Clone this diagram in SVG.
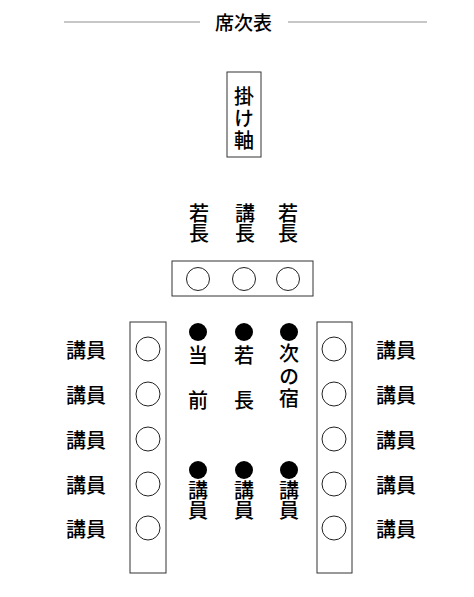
<svg xmlns="http://www.w3.org/2000/svg" width="474" height="597" viewBox="0 0 474 597">
<style>
text{font-family:"Noto Sans CJK JP","Noto Sans CJK SC",sans-serif;font-size:20px;font-weight:500;fill:#000;text-anchor:middle;dominant-baseline:central}
.v{writing-mode:vertical-rl}
.box{fill:#fff;stroke:#333;stroke-width:1}
.seat{fill:#fff;stroke:#222;stroke-width:1}
.dot{fill:#000}
.rule{stroke:#b5b5b5;stroke-width:1.5}
</style>
<rect width="474" height="597" fill="#fff"/>
<g id="title">
<line class="rule" x1="64" y1="22" x2="200" y2="22"/>
<line class="rule" x1="288" y1="22" x2="427" y2="22"/>
<text x="243.5" y="21.5" style="font-size:19px">席次表</text>
</g>
<g id="kakejiku">
<rect class="box" x="227" y="72" width="34" height="85"/>
<text class="v" x="244" y="119" style="letter-spacing:2px">掛け軸</text>
</g>
<g id="head-labels">
<text class="v" x="199" y="223">若長</text>
<text class="v" x="245" y="223">講長</text>
<text class="v" x="288" y="223">若長</text>
</g>
<g id="head-table">
<rect class="box" x="172" y="261" width="141" height="35"/>
<circle class="seat" cx="198" cy="279" r="11.5"/>
<circle class="seat" cx="244" cy="279" r="11.5"/>
<circle class="seat" cx="288" cy="279" r="11.5"/>
</g>
<g id="left-table">
<rect class="box" x="130" y="322" width="36" height="251"/>
<circle class="seat" cx="148" cy="349" r="12"/>
<circle class="seat" cx="148" cy="394" r="12"/>
<circle class="seat" cx="148" cy="439" r="12"/>
<circle class="seat" cx="148" cy="484" r="12"/>
<circle class="seat" cx="148" cy="528" r="12"/>
</g>
<g id="left-labels">
<text x="86" y="349">講員</text>
<text x="86" y="394">講員</text>
<text x="86" y="439">講員</text>
<text x="86" y="484">講員</text>
<text x="86" y="528">講員</text>
</g>
<g id="right-table">
<rect class="box" x="317" y="322" width="35" height="251"/>
<circle class="seat" cx="334" cy="349" r="12"/>
<circle class="seat" cx="334" cy="394" r="12"/>
<circle class="seat" cx="334" cy="439" r="12"/>
<circle class="seat" cx="334" cy="484" r="12"/>
<circle class="seat" cx="334" cy="528" r="12"/>
</g>
<g id="right-labels">
<text x="396" y="349">講員</text>
<text x="396" y="394">講員</text>
<text x="396" y="439">講員</text>
<text x="396" y="484">講員</text>
<text x="396" y="528">講員</text>
</g>
<g id="toumae">
<circle class="dot" cx="198" cy="332" r="9"/>
<text x="198" y="354">当</text><text x="198" y="399">前</text>
</g>
<g id="wakacho">
<circle class="dot" cx="244" cy="332" r="9"/>
<text x="244" y="354">若</text><text x="244" y="399">長</text>
</g>
<g id="tsuginoyado">
<circle class="dot" cx="289" cy="332" r="9"/>
<text class="v" x="289" y="377.5" style="letter-spacing:2.5px">次の宿</text>
</g>
<g id="koin-1">
<circle class="dot" cx="198" cy="470" r="9"/>
<text class="v" x="198" y="500">講員</text>
</g>
<g id="koin-2">
<circle class="dot" cx="244" cy="470" r="9"/>
<text class="v" x="244" y="500">講員</text>
</g>
<g id="koin-3">
<circle class="dot" cx="289" cy="470" r="9"/>
<text class="v" x="289" y="500">講員</text>
</g>
<g id="connectors"></g>
</svg>
